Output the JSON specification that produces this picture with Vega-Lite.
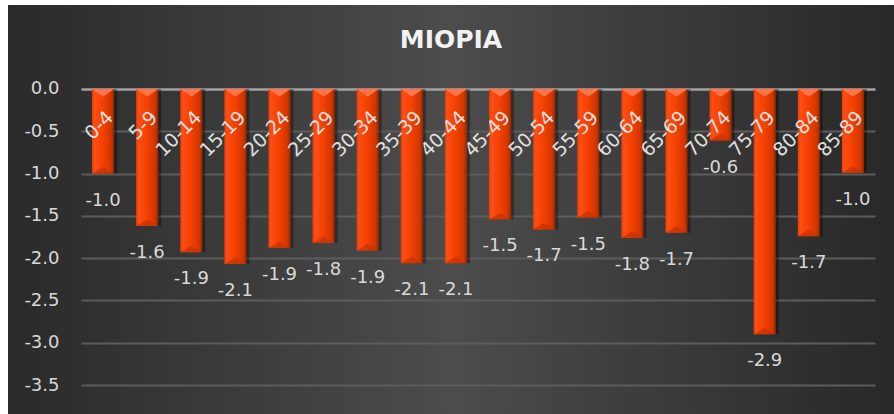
{
  "$schema": "https://vega.github.io/schema/vega-lite/v6.json",
  "autosize": {"type": "fit", "contains": "padding"},
  "width": 894,
  "height": 414,
  "padding": {"left": 8, "top": 5, "right": 0, "bottom": 0},
  "background": "#ffffff",
  "view": {
    "stroke": null,
    "fill": {
      "gradient": "linear", "x1": 0, "y1": 0, "x2": 1, "y2": 0,
      "stops": [
        {"offset": 0, "color": "#2a2a2a"},
        {"offset": 0.5, "color": "#4c4c4c"},
        {"offset": 1, "color": "#282828"}
      ]
    }
  },
  "title": {
    "text": "MIOPIA",
    "font": "DejaVu Sans",
    "fontSize": 25,
    "fontWeight": "bold",
    "color": "#f2f2f2",
    "anchor": "middle",
    "frame": "group",
    "baseline": "alphabetic",
    "offset": -68
  },
  "config": {
    "locale": {"number": {"decimal": ".", "thousands": ",", "grouping": [3], "currency": ["$", ""], "minus": "-"}},
    "font": "DejaVu Sans"
  },
  "data": {
    "values": [
      {"age": "0-4", "value": -1.0},
      {"age": "5-9", "value": -1.62},
      {"age": "10-14", "value": -1.93},
      {"age": "15-19", "value": -2.07},
      {"age": "20-24", "value": -1.88},
      {"age": "25-29", "value": -1.82},
      {"age": "30-34", "value": -1.91},
      {"age": "35-39", "value": -2.06},
      {"age": "40-44", "value": -2.06},
      {"age": "45-49", "value": -1.54},
      {"age": "50-54", "value": -1.66},
      {"age": "55-59", "value": -1.52},
      {"age": "60-64", "value": -1.76},
      {"age": "65-69", "value": -1.7},
      {"age": "70-74", "value": -0.61},
      {"age": "75-79", "value": -2.9},
      {"age": "80-84", "value": -1.74},
      {"age": "85-89", "value": -0.99}
    ]
  },
  "encoding": {
    "x": {
      "field": "age", "type": "nominal", "sort": null, "axis": null,
      "scale": {"range": [73, 867], "paddingInner": 0.5, "paddingOuter": 0.25}
    },
    "y": {
      "field": "value", "type": "quantitative",
      "scale": {"domain": [-3.842, 0.993], "nice": false, "zero": false},
      "axis": {
        "title": null,
        "values": [0, -0.5, -1, -1.5, -2, -2.5, -3, -3.5],
        "format": ".1f",
        "domain": false,
        "ticks": false,
        "tickSize": 0,
        "labelPadding": -51,
        "labelFont": "DejaVu Sans",
        "labelFontSize": 18,
        "labelColor": "#d9d9d9",
        "grid": true,
        "gridColor": {"condition": {"test": "datum.value === 0", "value": "#a3a3a3"}, "value": "#5c5c5c"},
        "gridWidth": {"condition": {"test": "datum.value === 0", "value": 2.5}, "value": 2},
        "gridOpacity": 1
      }
    }
  },
  "layer": [
    {
      "mark": {"type": "bar", "color": "#000000", "opacity": 0.35, "xOffset": 3}
    },
    {
      "mark": {
        "type": "bar",
        "color": {
          "gradient": "linear", "x1": 0, "y1": 0, "x2": 1, "y2": 0,
          "stops": [
            {"offset": 0, "color": "#e63e08"},
            {"offset": 0.12, "color": "#ff4d14"},
            {"offset": 0.5, "color": "#f24000"},
            {"offset": 0.85, "color": "#d23600"},
            {"offset": 1, "color": "#962800"}
          ]
        }
      }
    },
    {
      "mark": {"type": "point", "shape": "M-1,0L1,0L0,0.7Z", "size": 484, "filled": true, "color": "#ff7448", "opacity": 1},
      "encoding": {"y": {"datum": 0}}
    },
    {
      "mark": {"type": "point", "shape": "M-1,0L1,0L0,-0.6Z", "size": 484, "filled": true, "color": "#c93300", "opacity": 0.8}
    },
    {
      "mark": {"type": "text", "angle": 315, "align": "right", "baseline": "middle", "dx": -13, "dy": 23, "font": "DejaVu Sans", "fontSize": 19, "color": "#e0e0e0"},
      "encoding": {"y": {"datum": 0}, "text": {"field": "age"}}
    },
    {
      "mark": {"type": "text", "align": "center", "baseline": "middle", "dy": 27, "font": "DejaVu Sans", "fontSize": 18, "color": "#d9d9d9"},
      "encoding": {"text": {"field": "value", "type": "quantitative", "format": ".1f"}}
    }
  ]
}
